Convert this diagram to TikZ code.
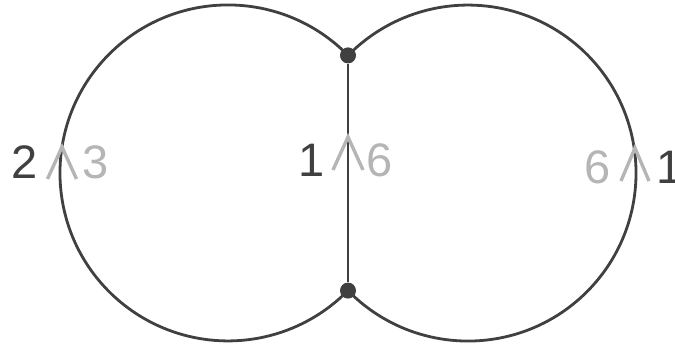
\documentclass[tikz,border=0pt]{standalone}
\usepackage{fontspec}
\setmainfont{Liberation Sans}
\definecolor{dark}{HTML}{404040}
\definecolor{light}{HTML}{B5B5B5}
\tikzset{
  ringline/.style={draw=dark, line width=2.8pt},
  dot/.style={circle, fill=dark, minimum size=16pt, inner sep=0pt},
  edgeline/.style={draw=dark, line width=2.8pt},
  chev/.style={draw=light, line width=3.4pt, line join=miter},
  lbldark/.style={text=dark, inner sep=0pt, font=\fontsize{47}{49}\selectfont},
  lbllight/.style={text=light, inner sep=0pt, font=\fontsize{47}{49}\selectfont}
}
\begin{document}
\begin{tikzpicture}[x=1pt,y=-1pt]
\useasboundingbox (0,0) rectangle (675,347);
\coordinate (L) at (228,173);
\coordinate (R) at (468,173);
\node[dot] (top) at (348,55.4) {};
\node[dot] (bot) at (348,290.6) {};
\draw[ringline] (top.center) arc[start angle=44.4, end angle=315.6, radius=168pt];
\draw[ringline] (bot.center) arc[start angle=-135.6, end angle=135.6, radius=168pt];
\draw[edgeline] (top) -- (bot);
% chevrons
\coordinate (cL) at (62,147);
\coordinate (cM) at (348,137);
\coordinate (cR) at (635,148);
\draw[chev] ([shift={(-14.5,32)}]cL) -- (cL) -- ([shift={(14.5,32)}]cL);
\draw[chev] ([shift={(-15,33)}]cM) -- (cM) -- ([shift={(15,33)}]cM);
\draw[chev] ([shift={(-14,33)}]cR) -- (cR) -- ([shift={(14,33)}]cR);
% labels
\node[lbldark] (l2) at (25,162) {2};
\node[lbllight] (l3) at (96,162) {3};
\node[lbldark] (m1) at (312,160) {1};
\node[lbllight] (m6) at (380,160) {6};
\node[lbllight] (r6) at (598,167) {6};
\node[lbldark, anchor=east] (r1) at (674.5,167) {\makebox[18pt][l]{1}};
\end{tikzpicture}
\end{document}
